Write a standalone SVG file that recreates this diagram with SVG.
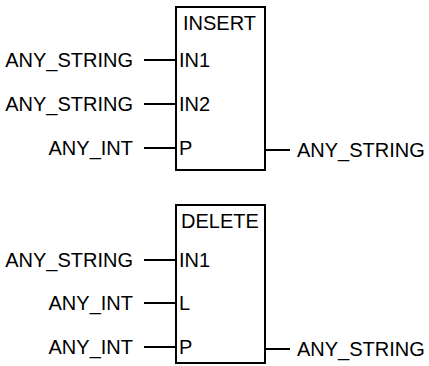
<svg xmlns="http://www.w3.org/2000/svg" width="429" height="366" viewBox="0 0 429 366">
  <style>
    .box { fill: #ffffff; stroke: #000000; stroke-width: 2; }
    .wire { stroke: #000000; stroke-width: 2; fill: none; }
    text { font-family: "Liberation Sans", Arial, sans-serif; font-size: 20px; fill: #000000; }
    .type { text-anchor: end; }
    .out { text-anchor: start; }
  </style>
  <rect width="429" height="366" fill="#ffffff"/>

  <!-- INSERT function block -->
  <g id="insert">
    <rect class="box" x="176" y="7" width="89" height="163"/>
    <text x="183" y="30">INSERT</text>
    <text x="179" y="67">IN1</text>
    <text x="179" y="111">IN2</text>
    <text x="179" y="155">P</text>
  </g>

  <!-- DELETE function block -->
  <g id="delete">
    <rect class="box" x="176" y="205" width="89" height="158"/>
    <text x="181" y="228">DELETE</text>
    <text x="179" y="267">IN1</text>
    <text x="179" y="310">L</text>
    <text x="179" y="354">P</text>
  </g>

  <!-- parameter type labels -->
  <g id="insert-types">
    <text class="type" x="133" y="67">ANY_STRING</text>
    <text class="type" x="133" y="111">ANY_STRING</text>
    <text class="type" x="133" y="155">ANY_INT</text>
    <text class="out" x="297" y="157">ANY_STRING</text>
  </g>
  <g id="delete-types">
    <text class="type" x="133" y="267">ANY_STRING</text>
    <text class="type" x="133" y="310">ANY_INT</text>
    <text class="type" x="133" y="354">ANY_INT</text>
    <text class="out" x="297" y="356">ANY_STRING</text>
  </g>

  <!-- connectors -->
  <g id="connectors">
    <line class="wire" x1="144" y1="60" x2="176" y2="60"/>
    <line class="wire" x1="144" y1="104" x2="176" y2="104"/>
    <line class="wire" x1="144" y1="148" x2="176" y2="148"/>
    <line class="wire" x1="265" y1="150" x2="290" y2="150"/>
    <line class="wire" x1="144" y1="260" x2="176" y2="260"/>
    <line class="wire" x1="144" y1="303" x2="176" y2="303"/>
    <line class="wire" x1="144" y1="347" x2="176" y2="347"/>
    <line class="wire" x1="265" y1="349" x2="290" y2="349"/>
  </g>
</svg>
